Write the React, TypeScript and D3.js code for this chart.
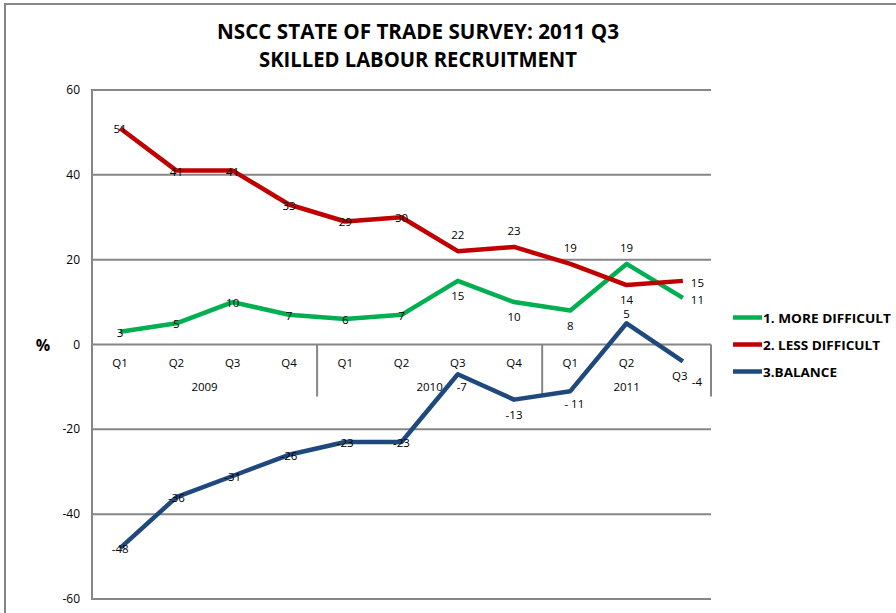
import React from "react";
import * as d3 from "d3";

const quarters = ["Q1", "Q2", "Q3", "Q4", "Q1", "Q2", "Q3", "Q4", "Q1", "Q2", "Q3"];
const years = ["2009", "2010", "2011"];
const yearSpans = [4, 4, 3];
const moreDifficult = [3, 5, 10, 7, 6, 7, 15, 10, 8, 19, 11];
const lessDifficult = [51, 41, 41, 33, 29, 30, 22, 23, 19, 14, 15];
const balance = [-48, -36, -31, -26, -23, -23, -7, -13, -11, 5, -4];
const yTicks = [60, 40, 20, 0, -20, -40, -60];
const seriesNames = ["1. MORE DIFFICULT", "2. LESS DIFFICULT", "3.BALANCE"];

// label placement: c=center on point, a=above, b=below, r=right, br=below-right, rr=far below-right, a2=just above
const greenPos = ["c", "c", "c", "c", "c", "c", "b", "b", "b", "a", "r"];
const redPos = ["c", "c", "c", "c", "c", "c", "a", "a", "a", "b", "r"];
const bluePos = ["c", "c", "c", "c", "c", "c", "br", "b", "br", "a2", "rr"];
const blueFmt = (v: number, i: number) => (i === 8 ? "- 11" : String(v));

const W = 896, H = 613;
const left = 92, right = 711, top = 90, bottom = 599;
const FONT = "'Open Sans', Lato, 'Liberation Sans', sans-serif";

export default function App() {
  const x = d3.scaleBand<number>().domain(d3.range(quarters.length)).range([left, right]).padding(0);
  const y = d3.scaleLinear().domain([-60, 60]).range([bottom, top]);
  const cx = (i: number) => (x(i) as number) + x.bandwidth() / 2;
  const line = d3.line<number>().x((_, i) => cx(i)).y((d) => y(d));

  const series = [
    { name: seriesNames[0], data: moreDifficult, color: "#00B050", pos: greenPos, fmt: (v: number) => String(v), lw: 128 },
    { name: seriesNames[1], data: lessDifficult, color: "#C00000", pos: redPos, fmt: (v: number) => String(v), lw: 117 },
    { name: seriesNames[2], data: balance, color: "#1F497D", pos: bluePos, fmt: blueFmt, lw: 74 },
  ];

  const labelXY = (p: string, px: number, py: number): [number, number, string] => {
    switch (p) {
      case "a": return [px, py - 12, "middle"];
      case "a2": return [px, py - 5, "middle"];
      case "b": return [px, py + 19, "middle"];
      case "r": return [px + 8, py + 6, "start"];
      case "rr": return [px + 9, py + 25, "start"];
      case "br": return [px + 4, py + 17, "middle"];
      default: return [px, py + 5, "middle"];
    }
  };

  const y0 = y(0);
  let acc = 0;
  const sepIdx: number[] = [];
  yearSpans.forEach((s) => { acc += s; sepIdx.push(acc); });

  return (
    <svg width={W} height={H} style={{ position: "absolute", left: 0, top: 0, background: "#fff" }} fontFamily={FONT}>
      <rect x={0} y={0} width={W} height={H} fill="#fff" />
      {/* outer border */}
      <line x1={5} y1={4} x2={5} y2={H} stroke="#868686" strokeWidth={2} />
      <line x1={4} y1={4} x2={W} y2={4} stroke="#868686" strokeWidth={2} />
      {/* title */}
      <text x={418} y={39} textAnchor="middle" fontSize={21} fontWeight="bold" fill="#000" textLength={402} lengthAdjust="spacingAndGlyphs">NSCC STATE OF TRADE SURVEY: 2011 Q3</text>
      <text x={418} y={67} textAnchor="middle" fontSize={21} fontWeight="bold" fill="#000" textLength={318} lengthAdjust="spacingAndGlyphs">SKILLED LABOUR RECRUITMENT</text>
      {/* gridlines */}
      {yTicks.map((t) => (
        <g key={t}>
          <line x1={left} x2={right} y1={y(t)} y2={y(t)} stroke="#868686" strokeWidth={2} />
          <text x={80} y={y(t) + 4} textAnchor="end" fontSize={12} fill="#000">{t}</text>
        </g>
      ))}
      <line x1={left} x2={left} y1={top - 1} y2={bottom + 1} stroke="#868686" strokeWidth={2} />
      {/* category separators */}
      {sepIdx.map((k) => {
        const xx = k >= quarters.length ? right : (x(k) as number);
        return <line key={k} x1={xx} x2={xx} y1={y0} y2={y0 + 52} stroke="#868686" strokeWidth={2} />;
      })}
      {quarters.map((q, i) => (
        <text key={i} x={i === quarters.length - 1 ? cx(i) - 3 : cx(i)} y={i === quarters.length - 1 ? y0 + 35 : y0 + 22} textAnchor="middle" fontSize={11.5} fill="#000">{q}</text>
      ))}
      {years.map((yr, j) => {
        const start = d3.sum(yearSpans.slice(0, j));
        const end = start + yearSpans[j];
        const mid = ((x(start) as number) + (end >= quarters.length ? right : (x(end) as number))) / 2;
        return <text key={yr} x={mid} y={y0 + 46} textAnchor="middle" fontSize={11.5} fill="#000">{yr}</text>;
      })}
      <text x={43} y={351} textAnchor="middle" fontSize={16} fontWeight="bold" fill="#000">%</text>
      {/* series */}
      {series.map((s) => (
        <path key={s.name} d={line(s.data) as string} fill="none" stroke={s.color} strokeWidth={4.5} strokeLinejoin="round" />
      ))}
      {series.map((s) =>
        s.data.map((v, i) => {
          const [lx, ly, anchor] = labelXY(s.pos[i], cx(i), y(v));
          return (
            <text key={s.name + i} x={lx} y={ly} textAnchor={anchor} fontSize={11.5} fill="#000">{s.fmt(v, i)}</text>
          );
        })
      )}
      {/* legend */}
      {series.map((s, k) => (
        <g key={s.name} transform={`translate(733, ${317.5 + k * 27})`}>
          <line x1={0} x2={29} y1={0} y2={0} stroke={s.color} strokeWidth={4.5} />
          <text x={30} y={5} fontSize={12} fontWeight="bold" fill="#000" textLength={s.lw} lengthAdjust="spacingAndGlyphs">{s.name}</text>
        </g>
      ))}
    </svg>
  );
}
